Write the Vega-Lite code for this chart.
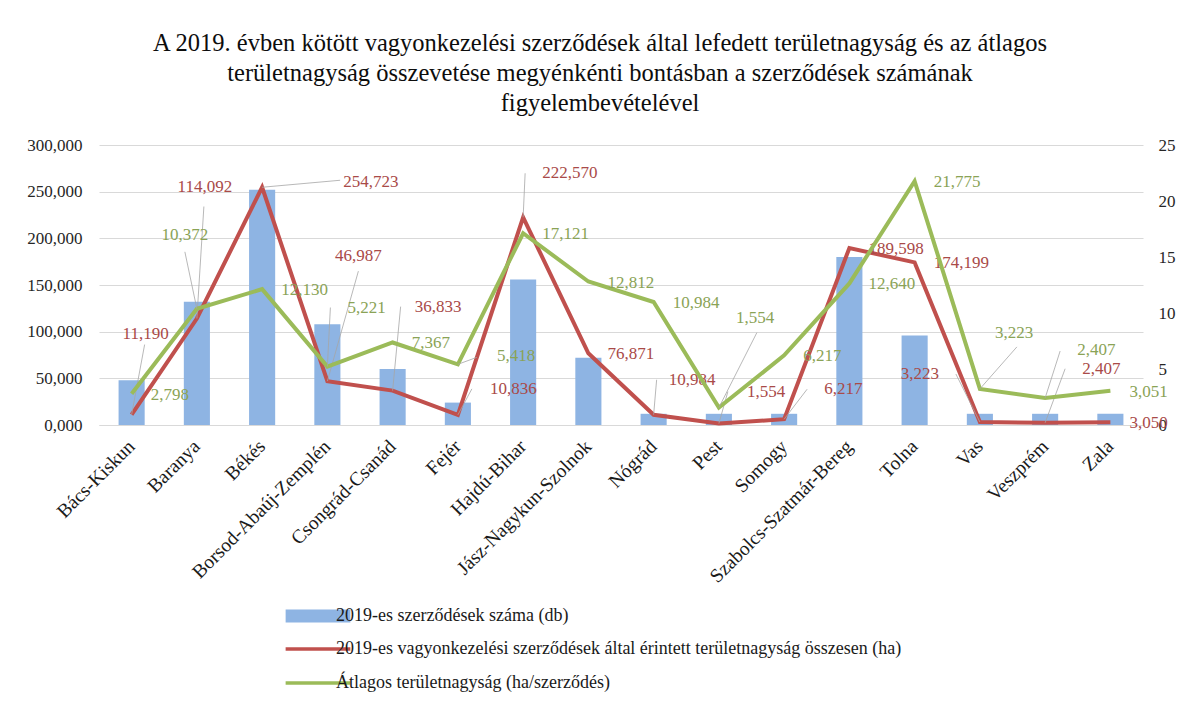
{
  "$schema": "https://vega.github.io/schema/vega-lite/v6.json",
  "width": 1044,
  "height": 280,
  "autosize": {"type": "none"},
  "padding": {"left": 99, "top": 145, "right": 36, "bottom": 279},
  "background": "white",
  "title": {
    "text": ["A 2019. évben kötött vagyonkezelési szerződések által lefedett területnagyság és az átlagos", "területnagyság összevetése megyénkénti bontásban a szerződések számának", "figyelembevételével"],
    "font": "Liberation Serif",
    "fontSize": 24.5,
    "fontWeight": "normal",
    "color": "#0d0d0d",
    "anchor": "middle",
    "lineHeight": 30,
    "offset": 20,
    "dx": -21
  },
  "data": {
    "values": [
      {"county": "Bács-Kiskun", "db": 4, "ossz": 11.190, "atlag": 2.798},
      {"county": "Baranya", "db": 11, "ossz": 114.092, "atlag": 10.372},
      {"county": "Békés", "db": 21, "ossz": 254.723, "atlag": 12.130},
      {"county": "Borsod-Abaúj-Zemplén", "db": 9, "ossz": 46.987, "atlag": 5.221},
      {"county": "Csongrád-Csanád", "db": 5, "ossz": 36.833, "atlag": 7.367},
      {"county": "Fejér", "db": 2, "ossz": 10.836, "atlag": 5.418},
      {"county": "Hajdú-Bihar", "db": 13, "ossz": 222.570, "atlag": 17.121},
      {"county": "Jász-Nagykun-Szolnok", "db": 6, "ossz": 76.871, "atlag": 12.812},
      {"county": "Nógrád", "db": 1, "ossz": 10.984, "atlag": 10.984},
      {"county": "Pest", "db": 1, "ossz": 1.554, "atlag": 1.554},
      {"county": "Somogy", "db": 1, "ossz": 6.217, "atlag": 6.217},
      {"county": "Szabolcs-Szatmár-Bereg", "db": 15, "ossz": 189.598, "atlag": 12.640},
      {"county": "Tolna", "db": 8, "ossz": 174.199, "atlag": 21.775},
      {"county": "Vas", "db": 1, "ossz": 3.223, "atlag": 3.223},
      {"county": "Veszprém", "db": 1, "ossz": 2.407, "atlag": 2.407},
      {"county": "Zala", "db": 1, "ossz": 3.050, "atlag": 3.051}
    ]
  },
  "encoding": {
    "x": {
      "field": "county", "type": "nominal", "sort": null,
      "scale": {"paddingInner": 0.6, "paddingOuter": 0.3},
      "axis": {"title": null, "labelAngle": -45, "labelAlign": "right", "labelBaseline": "middle", "labelFontSize": 19.5, "labelPadding": 18, "labelLimit": 0, "ticks": false, "domain": true, "domainColor": "#d9d9d9", "grid": false, "labelColor": "#1a1a1a"}
    }
  },
  "layer": [
    {
      "mark": {"type": "bar", "color": "#8eb4e3"},
      "encoding": {
        "y": {"field": "db", "type": "quantitative", "scale": {"domain": [0, 25]},
          "axis": {"orient": "right", "title": null, "values": [0, 5, 10, 15, 20, 25], "format": "d", "grid": false, "domain": false, "ticks": false, "labelPadding": 15, "labelFontSize": 17, "labelColor": "#262626"}},
        "fill": {"datum": "2019-es szerződések száma (db)", "type": "nominal",
          "scale": {"range": ["#8eb4e3"]},
          "legend": {"orient": "none", "legendX": 210, "legendY": 462, "title": null, "padding": 0, "symbolType": "M-4.5,-0.9H4.5V0.9H-4.5Z", "symbolSize": 207, "symbolStrokeWidth": 0, "labelFont": "Liberation Serif", "labelFontSize": 18, "labelColor": "#1a1a1a", "labelOffset": 9, "labelLimit": 0}}
      }
    },
    {
      "encoding": {
        "y": {"field": "ossz", "type": "quantitative", "scale": {"domain": [0, 300]},
          "axis": {"orient": "left", "title": null, "values": [0, 50, 100, 150, 200, 250, 300], "format": ".3f", "grid": true, "gridColor": "#d9d9d9", "domain": false, "ticks": false, "labelPadding": 17, "labelFontSize": 17, "labelColor": "#262626"}},
        "text": {"field": "ossz", "type": "quantitative", "format": ".3f"}
      },
      "layer": [
        {
          "mark": {"type": "line", "strokeWidth": 4, "strokeJoin": "miter"},
          "encoding": {
            "stroke": {"datum": "2019-es vagyonkezelési szerződések által érintett területnagyság összesen (ha)", "type": "nominal",
              "scale": {"domain": ["2019-es vagyonkezelési szerződések által érintett területnagyság összesen (ha)", "Átlagos területnagyság (ha/szerződés)"], "range": ["#c0504d", "#9bbb59"]},
              "legend": {"orient": "none", "legendX": 210, "legendY": 495, "title": null, "padding": 0, "symbolType": "M-4.5,0H4.5", "symbolSize": 207, "symbolStrokeWidth": 3.5, "labelFont": "Liberation Serif", "labelFontSize": 18, "labelColor": "#1a1a1a", "labelOffset": 9, "labelLimit": 0, "rowPadding": 16}}
          }
        },
        {"transform": [{"filter": "indexof(['Jász-Nagykun-Szolnok','Szabolcs-Szatmár-Bereg','Tolna','Zala'], datum.county) >= 0"}],
          "mark": {"type": "text", "align": "left", "dx": 19, "dy": 1, "color": "#a94a48"}},
        {"transform": [{"filter": "datum.county == 'Bács-Kiskun'"}], "layer": [
          {"mark": {"type": "rule", "x2Offset": 13, "y2Offset": -70}, "encoding": {"x2": {"field": "county"}, "y2": {"field": "ossz"}}},
          {"mark": {"type": "text", "align": "center", "dx": 14, "dy": -81, "color": "#a94a48"}}]},
        {"transform": [{"filter": "datum.county == 'Baranya'"}], "layer": [
          {"mark": {"type": "rule", "x2Offset": 7, "y2Offset": -112}, "encoding": {"x2": {"field": "county"}, "y2": {"field": "ossz"}}},
          {"mark": {"type": "text", "align": "center", "dx": 8, "dy": -132, "color": "#a94a48"}}]},
        {"transform": [{"filter": "datum.county == 'Békés'"}], "layer": [
          {"mark": {"type": "rule", "x2Offset": 78, "y2Offset": -7}, "encoding": {"x2": {"field": "county"}, "y2": {"field": "ossz"}}},
          {"mark": {"type": "text", "align": "left", "dx": 81, "dy": -5, "color": "#a94a48"}}]},
        {"transform": [{"filter": "datum.county == 'Borsod-Abaúj-Zemplén'"}], "layer": [
          {"mark": {"type": "rule", "x2Offset": 31, "y2Offset": -110}, "encoding": {"x2": {"field": "county"}, "y2": {"field": "ossz"}}},
          {"mark": {"type": "text", "align": "center", "dx": 31, "dy": -125, "color": "#a94a48"}}]},
        {"transform": [{"filter": "datum.county == 'Csongrád-Csanád'"}], "layer": [
          {"mark": {"type": "rule", "x2Offset": 8, "y2Offset": -84}, "encoding": {"x2": {"field": "county"}, "y2": {"field": "ossz"}}},
          {"mark": {"type": "text", "align": "left", "dx": 22, "dy": -84, "color": "#a94a48"}}]},
        {"transform": [{"filter": "datum.county == 'Fejér'"}], "layer": [
          {"mark": {"type": "rule", "x2Offset": 14, "y2Offset": -26}, "encoding": {"x2": {"field": "county"}, "y2": {"field": "ossz"}}},
          {"mark": {"type": "text", "align": "left", "dx": 32, "dy": -26, "color": "#a94a48"}}]},
        {"transform": [{"filter": "datum.county == 'Hajdú-Bihar'"}], "layer": [
          {"mark": {"type": "rule", "x2Offset": 2, "y2Offset": -44}, "encoding": {"x2": {"field": "county"}, "y2": {"field": "ossz"}}},
          {"mark": {"type": "text", "align": "left", "dx": 19, "dy": -44, "color": "#a94a48"}}]},
        {"transform": [{"filter": "datum.county == 'Nógrád'"}], "layer": [
          {"mark": {"type": "rule", "x2Offset": 3, "y2Offset": -35}, "encoding": {"x2": {"field": "county"}, "y2": {"field": "ossz"}}},
          {"mark": {"type": "text", "align": "left", "dx": 15, "dy": -35, "color": "#a94a48"}}]},
        {"transform": [{"filter": "datum.county == 'Pest'"}], "layer": [
          {"mark": {"type": "rule", "x2Offset": 9, "y2Offset": -32}, "encoding": {"x2": {"field": "county"}, "y2": {"field": "ossz"}}},
          {"mark": {"type": "text", "align": "left", "dx": 28, "dy": -32, "color": "#a94a48"}}]},
        {"transform": [{"filter": "datum.county == 'Somogy'"}], "layer": [
          {"mark": {"type": "rule", "x2Offset": 23, "y2Offset": -30}, "encoding": {"x2": {"field": "county"}, "y2": {"field": "ossz"}}},
          {"mark": {"type": "text", "align": "left", "dx": 40, "dy": -30, "color": "#a94a48"}}]},
        {"transform": [{"filter": "datum.county == 'Vas'"}], "layer": [
          {"mark": {"type": "rule", "x2Offset": -24, "y2Offset": -48}, "encoding": {"x2": {"field": "county"}, "y2": {"field": "ossz"}}},
          {"mark": {"type": "text", "align": "right", "dx": -41, "dy": -48, "color": "#a94a48"}}]},
        {"transform": [{"filter": "datum.county == 'Veszprém'"}], "layer": [
          {"mark": {"type": "rule", "x2Offset": 20, "y2Offset": -54}, "encoding": {"x2": {"field": "county"}, "y2": {"field": "ossz"}}},
          {"mark": {"type": "text", "align": "left", "dx": 37, "dy": -54, "color": "#a94a48"}}]}
      ]
    },
    {
      "encoding": {
        "y": {"field": "atlag", "type": "quantitative", "scale": {"domain": [0, 25]}, "axis": null},
        "text": {"field": "atlag", "type": "quantitative", "format": ".3f"}
      },
      "layer": [
        {
          "mark": {"type": "line", "strokeWidth": 4, "strokeJoin": "miter"},
          "encoding": {"stroke": {"datum": "Átlagos területnagyság (ha/szerződés)", "type": "nominal"}}
        },
        {"transform": [{"filter": "indexof(['Baranya','Borsod-Abaúj-Zemplén','Fejér','Pest','Vas','Veszprém'], datum.county) < 0"}],
          "mark": {"type": "text", "align": "left", "dx": 19, "dy": 1, "color": "#8aa356"}},
        {"transform": [{"filter": "datum.county == 'Baranya'"}], "layer": [
          {"mark": {"type": "rule", "x2Offset": -12, "y2Offset": -57}, "encoding": {"x2": {"field": "county"}, "y2": {"field": "atlag"}}},
          {"mark": {"type": "text", "align": "center", "dx": -12, "dy": -74, "color": "#8aa356"}}]},
        {"transform": [{"filter": "datum.county == 'Borsod-Abaúj-Zemplén'"}], "layer": [
          {"mark": {"type": "rule", "x2Offset": 3, "y2Offset": -59}, "encoding": {"x2": {"field": "county"}, "y2": {"field": "atlag"}}},
          {"mark": {"type": "text", "align": "left", "dx": 20, "dy": -59, "color": "#8aa356"}}]},
        {"transform": [{"filter": "datum.county == 'Fejér'"}], "layer": [
          {"mark": {"type": "rule", "x2Offset": 19, "y2Offset": -7}, "encoding": {"x2": {"field": "county"}, "y2": {"field": "atlag"}}},
          {"mark": {"type": "text", "align": "left", "dx": 39, "dy": -8, "color": "#8aa356"}}]},
        {"transform": [{"filter": "datum.county == 'Pest'"}], "layer": [
          {"mark": {"type": "rule", "x2Offset": 38, "y2Offset": -75}, "encoding": {"x2": {"field": "county"}, "y2": {"field": "atlag"}}},
          {"mark": {"type": "text", "align": "left", "dx": 17, "dy": -90, "color": "#8aa356"}}]},
        {"transform": [{"filter": "datum.county == 'Vas'"}], "layer": [
          {"mark": {"type": "rule", "x2Offset": 37, "y2Offset": -42}, "encoding": {"x2": {"field": "county"}, "y2": {"field": "atlag"}}},
          {"mark": {"type": "text", "align": "left", "dx": 15, "dy": -56, "color": "#8aa356"}}]},
        {"transform": [{"filter": "datum.county == 'Veszprém'"}], "layer": [
          {"mark": {"type": "rule", "x2Offset": 15, "y2Offset": -47}, "encoding": {"x2": {"field": "county"}, "y2": {"field": "atlag"}}},
          {"mark": {"type": "text", "align": "left", "dx": 32, "dy": -48, "color": "#8aa356"}}]}
      ]
    }
  ],
  "resolve": {"scale": {"y": "independent"}, "axis": {"y": "independent"}},
  "config": {
    "locale": {"number": {"decimal": ",", "thousands": " ", "grouping": [3], "currency": ["", ""]}},
    "view": {"stroke": null},
    "axis": {"labelFont": "Liberation Serif"},
    "text": {"font": "Liberation Serif", "fontSize": 17},
    "rule": {"color": "#a6a6a6", "strokeWidth": 0.8}
  }
}
